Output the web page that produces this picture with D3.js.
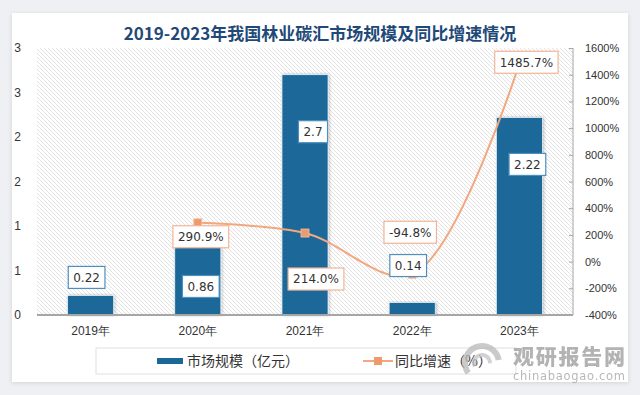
<!DOCTYPE html>
<html>
<head>
<meta charset="utf-8">
<script src="https://cdn.jsdelivr.net/npm/d3@7"></script>
<style>
  html, body { margin: 0; padding: 0; background: #eef0f3; }
  svg { display: block; }
</style>
</head>
<body>
<div id="chart"></div>
<script>
// data
var years = ["2019年", "2020年", "2021年", "2022年", "2023年"];
var marketSize = [0.22, 0.86, 2.7, 0.14, 2.22];          // 亿元
var growth = [null, 290.9, 214.0, -94.8, 1485.7];         // %
var leftTicks = [0, 0.5, 1, 1.5, 2, 2.5, 3];
var rightTicks = [-400, -200, 0, 200, 400, 600, 800, 1000, 1200, 1400, 1600];

// label nudges (px) so boxes sit where the original put them
var barLabelShift = [[-4, -18], [3, 48], [8, 57], [-4, -37], [8, 47]];
var lineLabelShift = [[0, 0], [3, 14], [11, 46], [-2, -42], [7, -1]];

var width = 640, height = 395;
var plot = { left: 37, right: 573, top: 48, bottom: 315 };

var svg = d3.select("#chart").append("svg")
    .attr("width", width)
    .attr("height", height)
    .style("font-family", "'DejaVu Sans', sans-serif");

var defs = svg.append("defs");

// diagonal hatching of the plot area
var pat = defs.append("pattern")
    .attr("id", "hatch")
    .attr("patternUnits", "userSpaceOnUse")
    .attr("width", 4).attr("height", 4);
pat.append("rect").attr("width", 4).attr("height", 4).attr("fill", "#ffffff");
pat.append("path")
    .attr("d", "M-1,-1 L5,5 M-1,3 L1,5 M3,-1 L5,1")
    .attr("stroke", "#e2e2e2")
    .attr("stroke-width", 1);

var shadow = defs.append("filter").attr("id", "card").attr("x", "-5%").attr("y", "-5%")
    .attr("width", "110%").attr("height", "110%");
shadow.append("feDropShadow").attr("dx", 0).attr("dy", 1).attr("stdDeviation", 2)
    .attr("flood-color", "#000").attr("flood-opacity", 0.12);

var barShadow = defs.append("filter").attr("id", "barsh").attr("x", "-20%").attr("y", "-10%")
    .attr("width", "140%").attr("height", "120%");
barShadow.append("feDropShadow").attr("dx", 1).attr("dy", 0).attr("stdDeviation", 1.5)
    .attr("flood-color", "#000").attr("flood-opacity", 0.25);

// white card
svg.append("rect")
    .attr("x", 12).attr("y", 13)
    .attr("width", 616).attr("height", 369)
    .attr("fill", "#fff")
    .attr("filter", "url(#card)");

// title
svg.append("text")
    .attr("x", 320).attr("y", 40)
    .attr("text-anchor", "middle")
    .style("font-family", "'Noto Sans CJK SC', sans-serif")
    .style("font-size", "17px")
    .style("font-weight", "bold")
    .attr("fill", "#1f4a78")
    .text("2019-2023年我国林业碳汇市场规模及同比增速情况");

// scales
var x = d3.scaleBand()
    .domain(years)
    .range([plot.left, plot.right])
    .paddingInner(0.57)
    .paddingOuter(0.285);

var yLeft = d3.scaleLinear().domain([0, 3]).range([plot.bottom, plot.top]);
var yRight = d3.scaleLinear().domain([-400, 1600]).range([plot.bottom, plot.top]);

// hatched plot background
svg.append("rect")
    .attr("x", plot.left).attr("y", plot.top)
    .attr("width", plot.right - plot.left)
    .attr("height", plot.bottom - plot.top)
    .attr("fill", "url(#hatch)");

// left axis: labels only, rounded like the original
var leftAxis = d3.axisLeft(yLeft)
    .tickValues(leftTicks)
    .tickSize(0)
    .tickFormat(function(d) { return Math.round(d); });
svg.append("g")
    .attr("transform", "translate(24,0)")
    .call(leftAxis)
    .call(function(g) { g.select(".domain").remove(); })
    .selectAll("text")
    .attr("fill", "#333")
    .style("font-size", "12px");

// right axis
var rightAxis = d3.axisRight(yRight)
    .tickValues(rightTicks)
    .tickSize(-4)
    .tickPadding(12)
    .tickFormat(function(d) { return d + "%"; });
var ra = svg.append("g")
    .attr("transform", "translate(" + plot.right + ",0)")
    .call(rightAxis);
ra.select(".domain").attr("stroke", "#a6a6a6").attr("d",
    "M0," + plot.top + "V" + plot.bottom);
ra.selectAll(".tick line").attr("stroke", "#a6a6a6");
ra.selectAll("text").attr("fill", "#333").style("font-size", "11px");

// bars
svg.append("g").selectAll("rect")
    .data(marketSize)
  .enter().append("rect")
    .attr("x", function(d, i) { return x(years[i]); })
    .attr("y", function(d) { return yLeft(d); })
    .attr("width", x.bandwidth())
    .attr("height", function(d) { return yLeft(0) - yLeft(d); })
    .attr("fill", "#1b6898")
    .attr("stroke", "#e8f1f8")
    .attr("stroke-width", 0.8)
    .attr("filter", "url(#barsh)");

// baseline
svg.append("line")
    .attr("x1", plot.left).attr("x2", plot.right)
    .attr("y1", plot.bottom).attr("y2", plot.bottom)
    .attr("stroke", "#a6a6a6").attr("stroke-width", 2);

// category labels
var xAxis = d3.axisBottom(x).tickSize(0).tickPadding(11);
svg.append("g")
    .attr("transform", "translate(0," + plot.bottom + ")")
    .call(xAxis)
    .call(function(g) { g.select(".domain").remove(); })
    .selectAll("text")
    .attr("fill", "#333")
    .style("font-size", "12px");

// growth line
var pts = growth.map(function(v, i) { return { v: v, i: i }; })
    .filter(function(d) { return d.v !== null; });
var line = d3.line()
    .x(function(d) { return x(years[d.i]) + x.bandwidth() / 2; })
    .y(function(d) { return yRight(d.v); })
    .curve(d3.curveCatmullRom.alpha(0.5));

svg.append("path")
    .datum(pts)
    .attr("d", line)
    .attr("fill", "none")
    .attr("stroke", "#f3a77f")
    .attr("stroke-width", 2);

svg.append("g").selectAll("rect")
    .data(pts)
  .enter().append("rect")
    .attr("x", function(d) { return x(years[d.i]) + x.bandwidth() / 2 - 4; })
    .attr("y", function(d) { return yRight(d.v) - 4; })
    .attr("width", 8).attr("height", 8)
    .attr("fill", "#ef9a6e")
    .attr("stroke", "#f6c2a5")
    .attr("stroke-width", 0.8);

// boxed data labels
function boxLabel(g, cx, cy, txt, border) {
  var t = g.append("text")
      .attr("x", cx).attr("y", cy)
      .attr("text-anchor", "middle")
      .attr("dy", "0.36em")
      .attr("fill", "#333")
      .style("font-size", "12px")
      .text(txt);
  var bb = t.node().getBBox();
  g.insert("rect", function() { return t.node(); })
      .attr("x", bb.x - 5).attr("y", cy - 11)
      .attr("width", bb.width + 10).attr("height", 22)
      .attr("fill", "#fff")
      .attr("stroke", border)
      .attr("stroke-width", 1.2);
}

var labels = svg.append("g");
marketSize.forEach(function(v, i) {
  var cx = x(years[i]) + x.bandwidth() / 2 + barLabelShift[i][0];
  var cy = yLeft(v) + barLabelShift[i][1];
  boxLabel(labels.append("g"), cx, cy, v, "#4d8fbf");
});
pts.forEach(function(d) {
  var cx = x(years[d.i]) + x.bandwidth() / 2 + lineLabelShift[d.i][0];
  var cy = yRight(d.v) + lineLabelShift[d.i][1];
  boxLabel(labels.append("g"), cx, cy, d.v.toFixed(1) + "%", "#f3b596");
});

// legend
var lg = svg.append("g");
lg.append("rect")
    .attr("x", 96).attr("y", 348)
    .attr("width", 420).attr("height", 26)
    .attr("fill", "#fff")
    .attr("stroke", "#e0e0e0");
lg.append("rect")
    .attr("x", 157).attr("y", 358)
    .attr("width", 26).attr("height", 6)
    .attr("fill", "#1b6898");
lg.append("text")
    .attr("x", 187).attr("y", 366)
    .style("font-family", "'Noto Sans CJK SC', sans-serif")
    .style("font-size", "14px")
    .attr("fill", "#333")
    .text("市场规模（亿元）");
lg.append("line")
    .attr("x1", 363).attr("x2", 393)
    .attr("y1", 361).attr("y2", 361)
    .attr("stroke", "#f3a77f").attr("stroke-width", 2);
lg.append("rect")
    .attr("x", 374).attr("y", 357)
    .attr("width", 8).attr("height", 8)
    .attr("fill", "#ef9a6e");
lg.append("text")
    .attr("x", 395).attr("y", 366)
    .style("font-family", "'Noto Sans CJK SC', sans-serif")
    .style("font-size", "14px")
    .attr("fill", "#333")
    .text("同比增速（%）");

// watermark
var wm = svg.append("g").attr("opacity", 0.75);
wm.append("path")
    .attr("d", d3.arc()({ innerRadius: 14, outerRadius: 20, startAngle: -2.2, endAngle: 1.4 }))
    .attr("transform", "translate(482,363)")
    .attr("fill", "#b9b9b9");
wm.append("path")
    .attr("d", d3.arc()({ innerRadius: 6, outerRadius: 10, startAngle: -2.0, endAngle: 1.6 }))
    .attr("transform", "translate(482,363)")
    .attr("fill", "#c4c4c4");
wm.append("text")
    .attr("x", 513).attr("y", 364)
    .style("font-family", "'Noto Sans CJK SC', sans-serif")
    .style("font-size", "21px")
    .style("font-weight", "900")
    .attr("textLength", 112)
    .attr("fill", "#9a9a9a")
    .text("观研报告网");
wm.append("text")
    .attr("x", 513).attr("y", 380)
    .style("font-family", "'DejaVu Sans', sans-serif")
    .style("font-size", "11.5px")
    .attr("textLength", 112)
    .attr("fill", "#a0a0a0")
    .text("chinabaogao.com");
</script>
</body>
</html>
